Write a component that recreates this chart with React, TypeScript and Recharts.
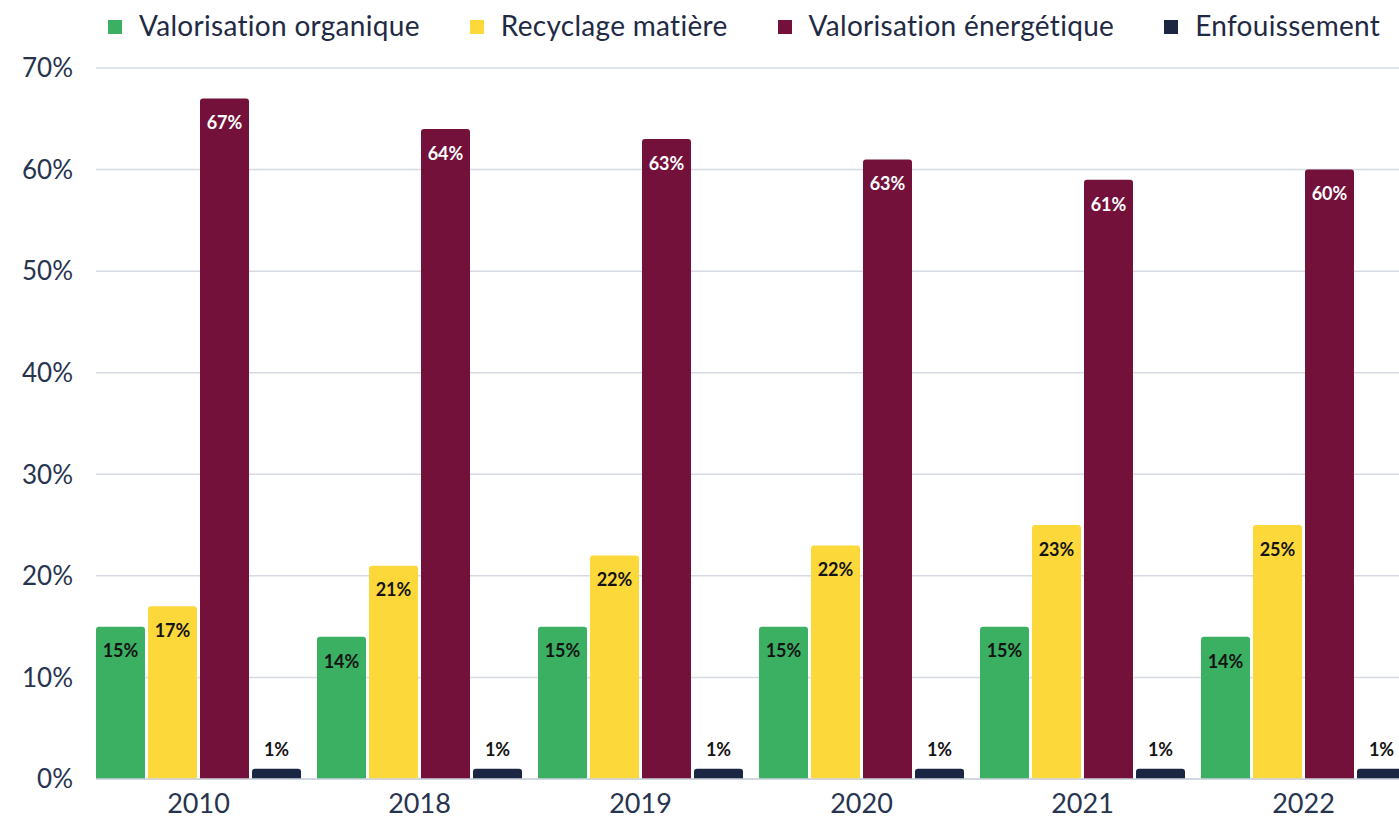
import React from 'react';
import { BarChart, Bar, XAxis, YAxis, CartesianGrid, Legend, LabelList } from 'recharts';

const categories = ['2010', '2018', '2019', '2020', '2021', '2022'];
const organique = [15, 14, 15, 15, 15, 14];
const recyclage = [17, 21, 22, 23, 25, 25];
const energetique = [67, 64, 63, 61, 59, 60];
const enfouissement = [1, 1, 1, 1, 1, 1];
const organiqueLabels = [15, 14, 15, 15, 15, 14];
const recyclageLabels = [17, 21, 22, 22, 23, 25];
const energetiqueLabels = [67, 64, 63, 63, 61, 60];
const enfouissementLabels = [1, 1, 1, 1, 1, 1];
const yTicks = [0, 10, 20, 30, 40, 50, 60, 70];

const seriesNames = ['Valorisation organique', 'Recyclage matière', 'Valorisation énergétique', 'Enfouissement'];
const colors = ['#3BAF62', '#FDD83A', '#74113A', '#1B2642'];

const data = categories.map((c, i) => ({
  year: c,
  organique: organique[i],
  recyclage: recyclage[i],
  energetique: energetique[i],
  enfouissement: enfouissement[i],
  organiqueL: organiqueLabels[i],
  recyclageL: recyclageLabels[i],
  energetiqueL: energetiqueLabels[i],
  enfouissementL: enfouissementLabels[i],
}));

const FONT = 'Lato, "Noto Sans", sans-serif';
const TEXT = '#27344F';

const renderLegend = () => (
  <div style={{ display: 'flex', alignItems: 'center', fontFamily: FONT, fontSize: 28, letterSpacing: 0.3, color: '#1F2A44', paddingLeft: 108, lineHeight: '34px', whiteSpace: 'nowrap', width: 1600 }}>
    {seriesNames.map((n, i) => (
      <div key={n} style={{ display: 'flex', alignItems: 'center', marginRight: 50, flexShrink: 0 }}>
        <div style={{ width: 14, height: 14, background: colors[i], marginRight: 17, marginTop: 3, flexShrink: 0 }} />
        <span style={{ whiteSpace: 'nowrap' }}>{n}</span>
      </div>
    ))}
  </div>
);

const fmt = (v: any) => `${v}%`;

export default function App() {
  return (
    <div style={{ position: 'absolute', left: 0, top: 0, width: 1399, height: 821, overflow: 'hidden', background: '#fff' }}>
      <BarChart
        width={1420}
        height={821}
        data={data}
        margin={{ top: 68, right: 6, bottom: 0, left: 0 }}
        barSize={49}
        barGap={3}
      >
        <CartesianGrid vertical={false} stroke="#D5DAE3" strokeWidth={1.5} />
        <XAxis
          dataKey="year"
          axisLine={{ stroke: '#CDD3DD', strokeWidth: 1.5 }}
          tickLine={false}
          tickSize={0}
          tickMargin={15}
          height={42}
          padding={{ left: -8, right: 0 }}
          tick={{ fill: TEXT, fontSize: 27, fontFamily: FONT }}
        />
        <YAxis
          domain={[0, 70]}
          ticks={yTicks}
          tickFormatter={fmt}
          axisLine={false}
          tickLine={false}
          tickSize={0}
          tickMargin={23}
          width={96}
          tick={{ fill: TEXT, fontSize: 26, fontFamily: FONT }}
        />
        <Legend verticalAlign="middle" align="center" layout="horizontal" content={renderLegend} wrapperStyle={{ top: 8, left: 0, width: 1420 }} />
        <Bar dataKey="organique" name={seriesNames[0]} fill={colors[0]} radius={[3, 3, 0, 0]} isAnimationActive={false}>
          <LabelList dataKey="organiqueL" position="insideTop" offset={18} formatter={fmt} fill="#141414" fontSize={18} fontWeight={700} fontFamily={FONT} />
        </Bar>
        <Bar dataKey="recyclage" name={seriesNames[1]} fill={colors[1]} radius={[3, 3, 0, 0]} isAnimationActive={false}>
          <LabelList dataKey="recyclageL" position="insideTop" offset={18} formatter={fmt} fill="#141414" fontSize={18} fontWeight={700} fontFamily={FONT} />
        </Bar>
        <Bar dataKey="energetique" name={seriesNames[2]} fill={colors[2]} radius={[3, 3, 0, 0]} isAnimationActive={false}>
          <LabelList dataKey="energetiqueL" position="insideTop" offset={18} formatter={fmt} fill="#FFFFFF" fontSize={18} fontWeight={700} fontFamily={FONT} />
        </Bar>
        <Bar dataKey="enfouissement" name={seriesNames[3]} fill={colors[3]} radius={[3, 3, 0, 0]} isAnimationActive={false}>
          <LabelList dataKey="enfouissementL" position="top" offset={13} formatter={fmt} fill="#141414" fontSize={18} fontWeight={700} fontFamily={FONT} />
        </Bar>
      </BarChart>
    </div>
  );
}
